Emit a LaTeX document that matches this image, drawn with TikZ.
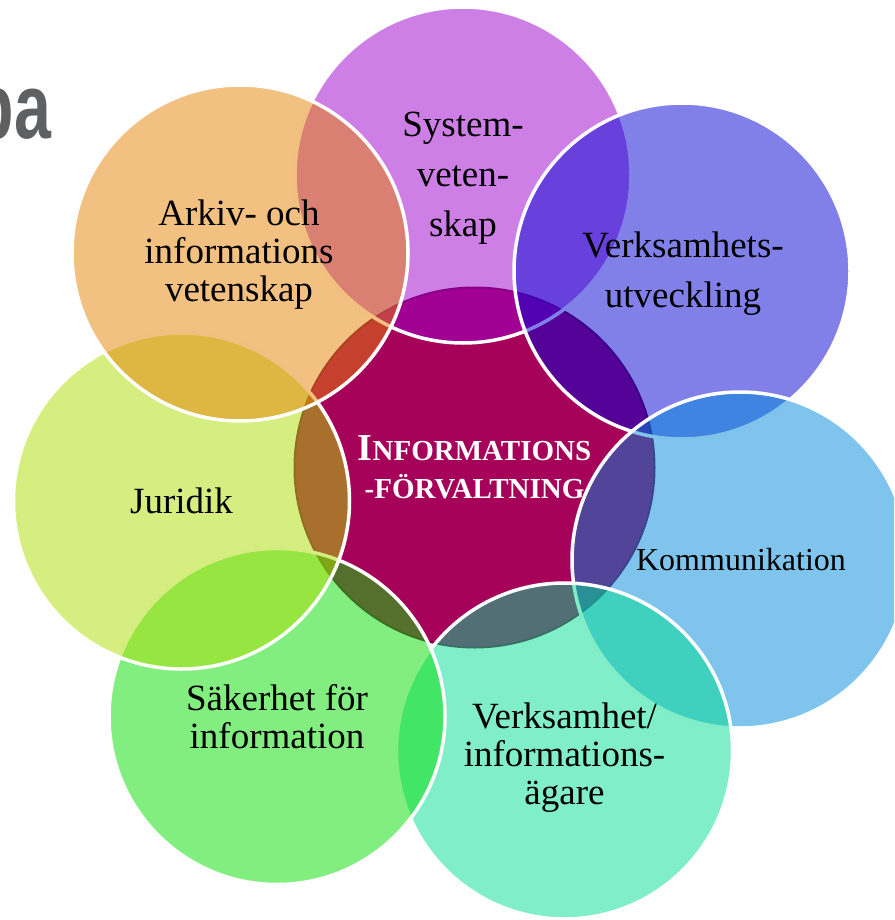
\documentclass[tikz,border=0pt]{standalone}
\usepackage{fontspec}
\setmainfont{Liberation Serif}
\newfontfamily\titlefont{Liberation Sans}
\usepackage{tikz}
\definecolor{infocol}{RGB}{166,2,90}
\definecolor{syscol}{RGB}{158,0,205}
\definecolor{verkcol}{RGB}{4,2,212}
\definecolor{kommcol}{RGB}{0,137,217}
\definecolor{agarcol}{RGB}{2,221,146}
\definecolor{sakcol}{RGB}{6,222,2}
\definecolor{jurcol}{RGB}{173,221,2}
\definecolor{arkcol}{RGB}{229,129,2}
\definecolor{titlegray}{RGB}{95,96,98}
\newcommand{\smallcap}[1]{{\fontsize{29}{38}\selectfont #1}}

\begin{document}
\begin{tikzpicture}[x=1pt,y=-1pt,
      petal/.style={circle,draw=white,line width=3.5pt,fill opacity=0.5,minimum size=336pt,inner sep=0pt},
      tag/.style={align=center,inner sep=0pt,font=\fontsize{37}{38}\selectfont},
      hub/.style={circle,fill=infocol,draw=infocol!70!black,line width=2pt,minimum size=360pt,
        inner sep=0pt,align=center,text=white,font=\bfseries\fontsize{38}{38}\selectfont},
      title/.style={anchor=base east,inner sep=0pt,text=titlegray,
        font=\titlefont\bfseries\fontsize{92}{92}\selectfont}]
    \useasboundingbox (0,0) rectangle (894,920);
    \clip (0,0) rectangle (894,920);
    \node[title] (head) at (51.5,138.5) {\scalebox{0.72}[1]{pa}};
    \node[hub] (info) at (474.5,467.5) {I\smallcap{NFORMATIONS}\\\smallcap{-FÖRVALTNING}};
    \node[petal,fill=syscol] (sys) at (463,175) {};
    \node[petal,fill=verkcol] (verk) at (682,271) {};
    \node[petal,fill=kommcol] (komm) at (740,560) {};
    \node[petal,fill=agarcol] (agare) at (564.5,751) {};
    \node[petal,fill=sakcol] (sak) at (277,716.5) {};
    \node[petal,fill=jurcol] (jur) at (181.5,501) {};
    \node[petal,fill=arkcol] (ark) at (240,253) {};
    \node[tag,font=\fontsize{37}{50}\selectfont] (sys-txt) at (463,178) {System-\\veten-\\skap};
    \node[tag,font=\fontsize{37}{50}\selectfont] (verk-txt) at (683,274) {Verksamhets-\\utveckling};
    \node[tag,font=\fontsize{32}{38}\selectfont] (komm-txt) at (741,560) {Kommunikation};
    \node[tag] (agare-txt) at (564.5,758) {Verksamhet/\\informations-\\ägare};
    \node[tag] (sak-txt) at (277,716.5) {Säkerhet för\\information};
    \node[tag] (jur-txt) at (181.5,501) {Juridik};
    \node[tag] (ark-txt) at (239,255) {Arkiv- och\\informations\\vetenskap};
  \end{tikzpicture}
\end{document}
